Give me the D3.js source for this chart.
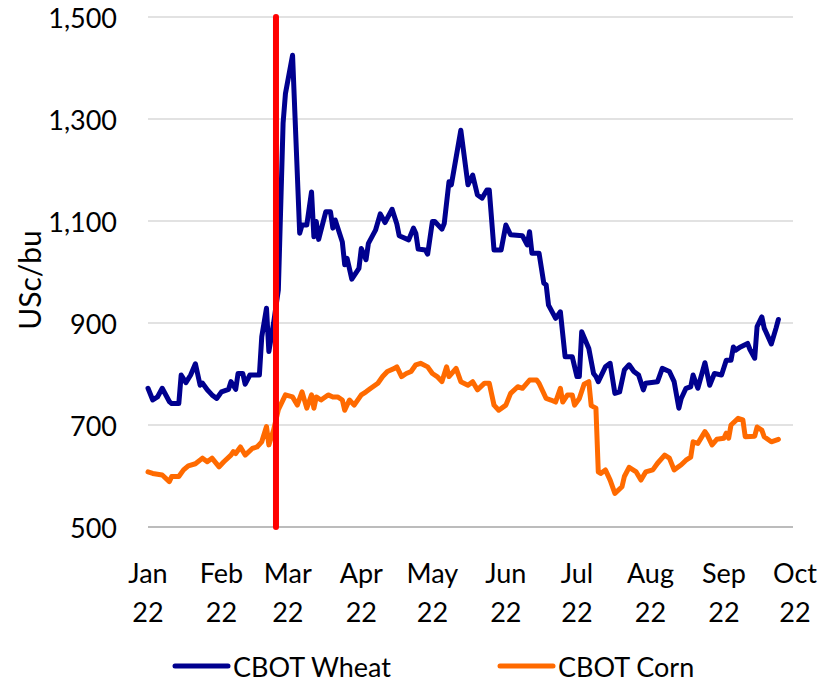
<!DOCTYPE html>
<html>
<head>
<meta charset="utf-8">
<script src="https://cdn.jsdelivr.net/npm/d3@7"></script>
<style>
    body { margin: 0; background: #fff; }
    svg text { font-family: Lato, "Open Sans", sans-serif; fill: #000; }
</style>
</head>
<body>
<div id="chart"></div>
<script>
// data (USc/bu)
const year = 2022;

const wheatDates = ["01-01","01-03","01-05","01-07","01-10","01-11","01-14","01-15","01-17","01-19","01-21","01-23","01-24","01-26","01-28","01-30",
    "02-01","02-04","02-05","02-07","02-08","02-10","02-11","02-13","02-17","02-18","02-20","02-21","02-23","02-25","02-27","02-28",
    "03-03","03-06","03-07","03-09","03-11","03-12","03-13","03-14","03-17","03-19","03-20","03-21","03-24","03-25","03-26","03-28","03-31",
    "04-01","04-03","04-04","04-07","04-09","04-11","04-14","04-16","04-17","04-21","04-23","04-24","04-25","04-28","04-29",
    "05-01","05-02","05-05","05-06","05-08","05-09","05-13","05-16","05-18","05-20","05-22","05-24","05-25","05-27","05-30",
    "06-01","06-03","06-08","06-10","06-11","06-12","06-15","06-17","06-18","06-19","06-22","06-24","06-26","06-29",
    "07-01","07-02","07-03","07-06","07-08","07-09","07-10","07-13","07-15","07-17","07-19","07-21","07-23","07-25","07-27","07-29","07-30",
    "08-04","08-06","08-09","08-11","08-13","08-14","08-16","08-18","08-19","08-21","08-24","08-26","08-28","08-31",
    "09-02","09-04","09-05","09-06","09-08","09-11","09-12","09-14","09-15","09-17","09-18","09-21","09-23","09-24"];
const wheatValues = [772,749,755,772,746,742,742,798,783,798,820,778,782,769,759,752,
    765,770,785,770,801,801,780,798,798,873,929,844,900,965,1292,1350,
    1425,1076,1092,1092,1157,1069,1099,1064,1118,1118,1086,1102,1059,1014,1027,986,1007,
    1046,1024,1056,1082,1114,1097,1123,1094,1071,1063,1086,1076,1045,1043,1035,
    1099,1099,1084,1095,1177,1171,1278,1171,1190,1151,1145,1161,1161,1043,1043,
    1092,1073,1071,1053,1079,1037,1037,978,975,935,909,922,834,834,
    795,795,883,850,801,795,785,814,821,762,765,808,818,805,798,769,782,
    785,811,805,785,733,752,772,775,798,772,822,778,801,798,
    827,827,853,847,853,860,848,831,893,912,890,859,890,907];

const cornDates = ["01-01","01-03","01-07","01-10","01-11","01-14","01-16","01-18","01-21","01-24","01-26","01-28","01-31",
    "02-02","02-05","02-06","02-07","02-09","02-11","02-14","02-16","02-18","02-20","02-21","02-23","02-25","02-28",
    "03-03","03-05","03-07","03-09","03-11","03-12","03-13","03-15","03-18","03-20","03-22","03-24","03-25","03-27","03-29",
    "04-01","04-03","04-05","04-08","04-10","04-12","04-15","04-16","04-18","04-20","04-22","04-24","04-26","04-29",
    "05-01","05-03","05-05","05-07","05-08","05-11","05-13","05-16","05-18","05-20","05-23","05-25","05-27","05-29",
    "06-01","06-03","06-06","06-08","06-11","06-14","06-15","06-18","06-20","06-22","06-24","06-25","06-27","06-29","06-30",
    "07-02","07-04","07-06","07-07","07-09","07-10","07-11","07-13","07-15","07-17","07-20","07-21","07-23","07-26","07-28","07-30",
    "08-02","08-04","08-07","08-09","08-11","08-14","08-16","08-18","08-19","08-21","08-24","08-25","08-27","08-29",
    "09-01","09-02","09-03","09-04","09-07","09-09","09-10","09-14","09-15","09-17","09-18","09-21","09-24"];
const cornValues = [608,605,602,589,599,599,612,620,624,635,628,635,618,
    628,641,648,644,657,641,654,657,667,697,661,690,730,759,
    755,739,765,733,759,733,755,749,759,755,755,749,729,749,739,
    759,765,772,782,795,805,811,814,795,801,805,818,821,814,
    801,795,785,814,795,811,785,778,785,769,782,782,739,729,
    739,762,775,772,788,788,782,752,749,745,772,745,759,759,739,
    752,780,785,738,733,608,605,612,592,566,579,599,617,608,592,608,
    612,625,641,635,612,622,631,637,667,664,687,680,661,672,
    674,684,674,700,713,710,677,678,696,690,677,667,672];

const monthLabels = ["Jan","Feb","Mar","Apr","May","Jun","Jul","Aug","Sep","Oct"];
const monthStarts = ["01-01","02-01","03-01","04-01","05-01","06-01","07-01","08-01","09-01","10-01"];
const yTicks = [500,700,900,1100,1300,1500];
const eventDate = "02-24";
const seriesNames = ["CBOT Wheat","CBOT Corn"];

// layout
const width = 819;
const height = 686;
const margin = {top: 17, right: 24, bottom: 159, left: 148};
const fontSize = 27;
const lineWidth = 5;
const wheatColor = "#00008f";
const cornColor = "#ff6a00";
const eventColor = "#ff0000";
const gridColor = "#d9d9d9";

const parseDate = d3.timeParse("%Y-%m-%d");
const toDate = md => parseDate(year + "-" + md);

const svg = d3.select("#chart").append("svg")
    .attr("width", width)
    .attr("height", height);

const x = d3.scaleTime()
    .domain([toDate(monthStarts[0]), toDate(monthStarts[monthStarts.length - 1])])
    .range([margin.left, width - margin.right]);

const y = d3.scaleLinear()
    .domain([500, 1500])
    .range([height - margin.bottom, margin.top]);

// gridlines
svg.append("g")
    .selectAll("line")
    .data(yTicks)
    .join("line")
    .attr("x1", margin.left)
    .attr("x2", width - margin.right - 2)
    .attr("y1", d => y(d))
    .attr("y2", d => y(d))
    .attr("stroke", (d, i) => i === 0 ? "#a6a6a6" : gridColor)
    .attr("stroke-width", 1.5);

// y axis labels
svg.append("g")
    .selectAll("text")
    .data(yTicks)
    .join("text")
    .attr("x", 117)
    .attr("y", d => y(d))
    .attr("text-anchor", "end")
    .attr("dominant-baseline", "central")
    .style("font-size", fontSize + "px")
    .text(d => d3.format(",")(d));

svg.append("text")
    .attr("transform", "translate(29 280) rotate(-90)")
    .attr("text-anchor", "middle")
    .attr("dominant-baseline", "central")
    .style("font-size", "30px")
    .text("USc/bu");

// x axis labels, two lines
const xLabels = svg.append("g")
    .selectAll("text")
    .data(monthStarts)
    .join("text")
    .attr("text-anchor", "middle")
    .style("font-size", fontSize + "px");

xLabels.append("tspan")
    .attr("x", d => x(toDate(d)))
    .attr("y", 583)
    .text((d, i) => monthLabels[i]);

xLabels.append("tspan")
    .attr("x", d => x(toDate(d)))
    .attr("y", 622)
    .text(String(year).slice(2));

// series
const line = d3.line()
    .x(d => x(d[0]))
    .y(d => y(d[1]));

const series = [
    {name: seriesNames[0], color: wheatColor, points: d3.zip(wheatDates.map(toDate), wheatValues)},
    {name: seriesNames[1], color: cornColor, points: d3.zip(cornDates.map(toDate), cornValues)}
];

svg.append("g")
    .selectAll("path")
    .data(series)
    .join("path")
    .attr("d", d => line(d.points))
    .attr("fill", "none")
    .attr("stroke", d => d.color)
    .attr("stroke-width", lineWidth)
    .attr("stroke-linejoin", "round")
    .attr("stroke-linecap", "round");

// event marker
svg.append("line")
    .attr("x1", x(toDate(eventDate)))
    .attr("x2", x(toDate(eventDate)))
    .attr("y1", y(1500))
    .attr("y2", y(500))
    .attr("stroke", eventColor)
    .attr("stroke-width", 6)
    .attr("stroke-linecap", "round");

// legend
const legendY = 666;
const legendX = [175, 500];

const legend = svg.append("g")
    .selectAll("g")
    .data(series)
    .join("g")
    .attr("transform", (d, i) => `translate(${legendX[i]} ${legendY})`);

legend.append("line")
    .attr("x1", 0)
    .attr("x2", 53)
    .attr("stroke", d => d.color)
    .attr("stroke-width", lineWidth)
    .attr("stroke-linecap", "round");

legend.append("text")
    .attr("x", 58)
    .attr("dominant-baseline", "central")
    .style("font-size", fontSize + "px")
    .text(d => d.name);
</script>
</body>
</html>
